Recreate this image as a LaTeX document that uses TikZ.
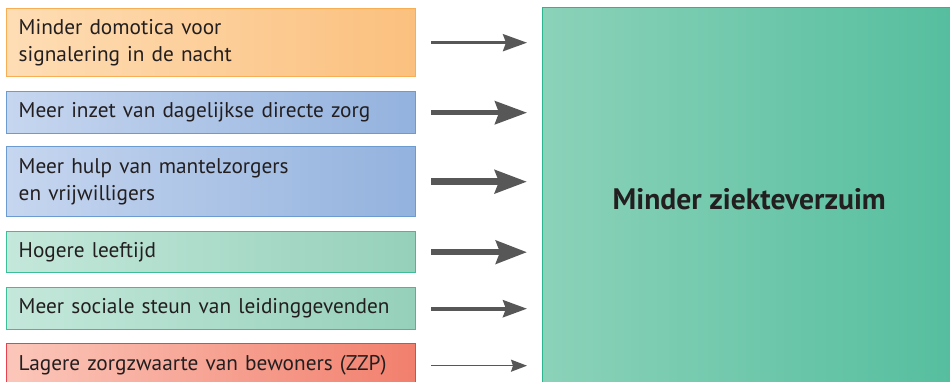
\documentclass[tikz,border=0pt]{standalone}
\usepackage{fontspec}
\setmainfont{PT Sans}
\usetikzlibrary{arrows.meta}
\definecolor{txt}{HTML}{231F20}
\definecolor{arr}{HTML}{575757}
\definecolor{orL}{HTML}{FEDDB5}\definecolor{orR}{HTML}{FBC07E}\definecolor{orB}{HTML}{F7AE55}
\definecolor{blL}{HTML}{C6D6EF}\definecolor{blR}{HTML}{93B2DE}\definecolor{blB}{HTML}{6C9BD2}
\definecolor{grL}{HTML}{C4E8DB}\definecolor{grR}{HTML}{95D0BA}\definecolor{grB}{HTML}{3CBF99}
\definecolor{rdL}{HTML}{FBC7BA}\definecolor{rdR}{HTML}{F27F6D}\definecolor{rdB}{HTML}{E8424F}
\definecolor{bgL}{HTML}{8BD2B9}\definecolor{bgR}{HTML}{55BE9E}\definecolor{bgB}{HTML}{2DB58F}
\tikzset{
  cause/.style={draw, line width=1.4pt, anchor=north west, minimum width=409pt,
    text width=385pt, inner xsep=12pt, inner ysep=0pt, align=left, text=txt,
    font=\fontsize{21.3}{27}\selectfont},
  orbox/.style={cause, left color=orL, right color=orR, draw=orB},
  blbox/.style={cause, left color=blL, right color=blR, draw=blB},
  grbox/.style={cause, left color=grL, right color=grR, draw=grB},
  rdbox/.style={cause, left color=rdL, right color=rdR, draw=rdB},
  effect/.style={draw=bgB, line width=1.4pt, left color=bgL, right color=bgR,
    anchor=north west, minimum width=413pt, minimum height=382pt, text=txt,
    font=\bfseries\fontsize{29.6}{32}\selectfont},
  link/.style={draw=arr, shorten <=15pt, shorten >=15pt},
}
\begin{document}
\begin{tikzpicture}[x=1pt,y=-1pt]
\useasboundingbox (0,0) rectangle (950,382);
\node[effect] (big) at (542,7) {Minder ziekteverzuim};
\node[orbox, minimum height=68pt] (b1) at (6,8) {Minder domotica voor\\signalering in de nacht};
\node[blbox, minimum height=42pt] (b2) at (6,91) {Meer inzet van dagelijkse directe zorg};
\node[blbox, minimum height=70pt] (b3) at (6,146) {Meer hulp van mantelzorgers\\en vrijwilligers};
\node[grbox, minimum height=41pt] (b4) at (6,231) {Hogere leeftijd};
\node[grbox, minimum height=42pt] (b5) at (6,287) {Meer sociale steun van leidinggevenden};
\node[rdbox, minimum height=44pt] (b6) at (6,343) {Lagere zorgzwaarte van bewoners (ZZP)};
\draw[link, line width=3pt, -{Stealth[length=24pt, width=17pt, inset=3pt]}] (b1.east) -- (b1.east -| big.west);
\draw[link, line width=5pt, -{Stealth[length=32pt, width=23pt, inset=4pt]}] (b2.east) -- (b2.east -| big.west);
\draw[link, line width=6.5pt, -{Stealth[length=32pt, width=23pt, inset=4pt]}] (b3.east) -- (b3.east -| big.west);
\draw[link, line width=6pt, -{Stealth[length=31pt, width=23pt, inset=4pt]}] (b4.east) -- (b4.east -| big.west);
\draw[link, line width=4pt, -{Stealth[length=24pt, width=17pt, inset=3pt]}] (b5.east) -- (b5.east -| big.west);
\draw[link, line width=1.5pt, -{Stealth[length=16pt, width=12pt, inset=2pt]}] (b6.east) -- (b6.east -| big.west);
\end{tikzpicture}
\end{document}
